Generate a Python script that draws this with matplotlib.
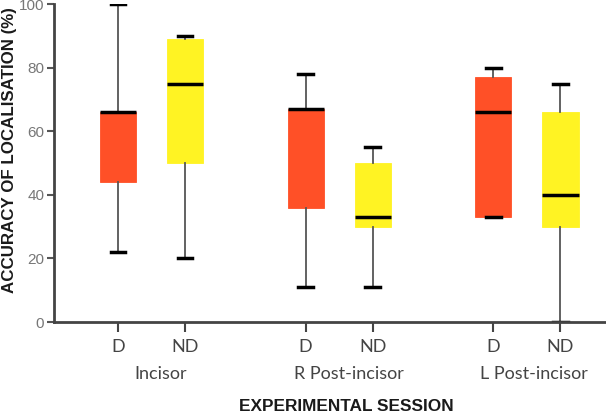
import matplotlib
matplotlib.use("Agg")
import matplotlib.pyplot as plt

# Data
groups = ["Incisor", "R Post-incisor", "L Post-incisor"]
tick_labels = ["D", "ND", "D", "ND", "D", "ND"]
whislo = [22, 20, 11, 11, 33, 0]
q1 = [44, 50, 36, 30, 33, 30]
med = [66, 75, 67, 33, 66, 40]
q3 = [66, 89, 67, 50, 77, 66]
whishi = [100, 90, 78, 55, 80, 75]
colors = ["#FF5027", "#FFF323", "#FF5027", "#FFF323", "#FF5027", "#FFF323"]

positions = [1, 2, 3.8, 4.8, 6.6, 7.6]

fig = plt.figure(figsize=(6.06, 4.15), dpi=100)
ax = fig.add_axes([0.089, 0.224, 0.911, 0.766])

stats = []
for i in range(len(tick_labels)):
    stats.append(dict(whislo=whislo[i], q1=q1[i], med=med[i], q3=q3[i],
                      whishi=whishi[i], fliers=[], label=tick_labels[i]))

bp = ax.bxp(stats, positions=positions, widths=0.54, patch_artist=True,
            showfliers=False, capwidths=0.22,
            boxprops=dict(linewidth=0.6),
            medianprops=dict(color="black", linewidth=2.5),
            whiskerprops=dict(color="#555555", linewidth=1.3),
            capprops=dict(color="black", linewidth=2.5))
for patch, c in zip(bp["boxes"], colors):
    patch.set_facecolor(c)
    patch.set_edgecolor(c)

ax.set_xlim(0.045, 8.28)
ax.set_ylim(0, 100)
ax.set_yticks([0, 20, 40, 60, 80, 100])
ax.set_xticks(positions)
ax.set_xticklabels(tick_labels, fontsize=13, color="#444444", family="Lato")
for lbl in ax.get_yticklabels():
    lbl.set_family("Liberation Sans")
ax.tick_params(axis="y", labelsize=11, labelcolor="#777777", length=5, width=1.5,
               color="#555555", pad=2)
ax.tick_params(axis="x", length=7, width=1.5, color="#444444", pad=5)

for s in ["top", "right"]:
    ax.spines[s].set_visible(False)
for s in ["left", "bottom"]:
    ax.spines[s].set_linewidth(2)
    ax.spines[s].set_color("#444444")

centers = [(positions[0] + positions[1]) / 2 + 0.13, (positions[2] + positions[3]) / 2 + 0.15,
           (positions[4] + positions[5]) / 2 + 0.1]
for g, cx in zip(groups, centers):
    ax.text(cx, -0.165, g, transform=ax.get_xaxis_transform(), ha="center",
            va="center", fontsize=13, color="#444444", family="Lato")

fig.text(10 / 606, 1 - 150 / 415, "ACCURACY OF LOCALISATION (%)", rotation=90,
         ha="center", va="center", fontsize=12.2, fontweight="bold",
         color="#1a1a1a", family="Liberation Sans")
fig.text(346 / 606, 1 - 406 / 415, "EXPERIMENTAL SESSION", ha="center", va="center",
         fontsize=12.4, fontweight="bold", color="#1a1a1a", family="Liberation Sans")

fig.savefig("out.png", dpi=100)
